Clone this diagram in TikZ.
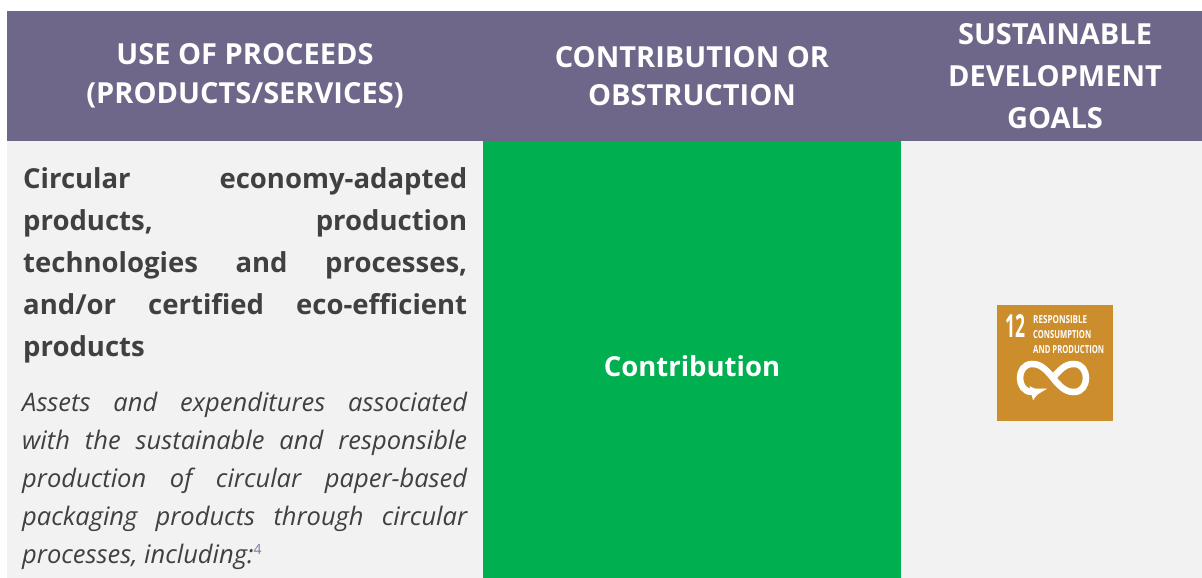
\documentclass[tikz,border=0pt]{standalone}
\usepackage{fontspec}
\setmainfont{Open Sans}
\usepackage{graphicx}
\usetikzlibrary{arrows.meta}
\definecolor{hdrpurple}{HTML}{6E6789}
\definecolor{cellgray}{HTML}{F2F2F2}
\definecolor{okgreen}{HTML}{00AF50}
\definecolor{sdgorange}{HTML}{CC8D2C}
\definecolor{bodytext}{HTML}{404040}
\definecolor{fnpurple}{HTML}{7F77A3}
\tikzset{
  hd/.style={font=\fontsize{29}{29}\selectfont\bfseries, text=white, anchor=base, inner sep=0pt},
  bl/.style={font=\fontsize{27.5}{27.5}\selectfont\bfseries, text=bodytext, anchor=base west, inner sep=0pt},
  il/.style={font=\fontsize{25.5}{25.5}\selectfont\itshape, text=bodytext, anchor=base west, inner sep=0pt},
  icontext/.style={font=\bfseries, text=white, anchor=base west, inner sep=0pt},
}
\begin{document}
\begin{tikzpicture}[x=1pt,y=-1pt]
\useasboundingbox (0,0) rectangle (1202,578);
\fill[white] (0,0) rectangle (1202,578);
% header band and cells
\fill[hdrpurple] (7,11) rectangle (1202,140.5);
\fill[cellgray] (7,140.5) rectangle (483,578);
\fill[okgreen] (483,140.5) rectangle (901,578);
\fill[cellgray] (901,140.5) rectangle (1202,578);
% header texts
\node[hd] (h1a) at (245,65) {USE OF PROCEEDS};
\node[hd] (h1b) at (245,103) {(PRODUCTS/SERVICES)};
\node[hd] (h2a) at (692,67) {CONTRIBUTION OR};
\node[hd] (h2b) at (692,106) {OBSTRUCTION};
\node[hd] (h3a) at (1055,45) {SUSTAINABLE};
\node[hd] (h3b) at (1055,87) {DEVELOPMENT};
\node[hd] (h3c) at (1055,128) {GOALS};
% bold description
\node[bl] (b1) at (23,188) {\makebox[444pt][s]{Circular economy-adapted}};
\node[bl] (b2) at (23,230) {\makebox[444pt][s]{products, production}};
\node[bl] (b3) at (23,272) {\makebox[444pt][s]{technologies and processes,}};
\node[bl] (b4) at (23,314) {\makebox[444pt][s]{and/or certified eco-efficient}};
\node[bl] (b5) at (23,356) {products};
% italic description
\node[il] (i1) at (22,411) {\makebox[445pt][s]{Assets and expenditures associated}};
\node[il] (i2) at (22,449) {\makebox[445pt][s]{with the sustainable and responsible}};
\node[il] (i3) at (22,487) {\makebox[445pt][s]{production of circular paper-based}};
\node[il] (i4) at (22,525) {\makebox[445pt][s]{packaging products through circular}};
\node[il] (i5) at (22,563) {processes, including:\textcolor{fnpurple}{\raisebox{9pt}{\fontsize{14}{14}\selectfont\upshape 4}}};
% contribution
\node[font=\fontsize{27.5}{27.5}\selectfont\bfseries, text=white, inner sep=0pt] (contr) at (692,366) {Contribution};
% SDG 12 icon
\fill[sdgorange] (997,305) rectangle (1113,421);
\node[icontext] (n12) at (1005,337) {\resizebox{20pt}{23pt}{12}};
\node[icontext] (t1) at (1033,323) {\resizebox{54pt}{8pt}{RESPONSIBLE}};
\node[icontext] (t2) at (1033,338) {\resizebox{58pt}{8pt}{CONSUMPTION}};
\node[icontext] (t3) at (1033,353) {\resizebox{71pt}{8pt}{AND PRODUCTION}};
\draw[white, line width=6.5pt, -{Triangle[width=14pt,length=9pt]}]
  (1053,378) .. controls (1063,365) and (1069,364) .. (1074,364)
  .. controls (1082,364) and (1086,371) .. (1086,378)
  .. controls (1086,385) and (1082,392) .. (1074,392)
  .. controls (1069,392) and (1063,391) .. (1053,378)
  .. controls (1043,365) and (1037,364) .. (1032,364)
  .. controls (1024,364) and (1020,371) .. (1020,378)
  .. controls (1020,385) and (1024,392) .. (1032,392)
  .. controls (1035,392) and (1038,391.5) .. (1040,391);
\end{tikzpicture}
\end{document}
